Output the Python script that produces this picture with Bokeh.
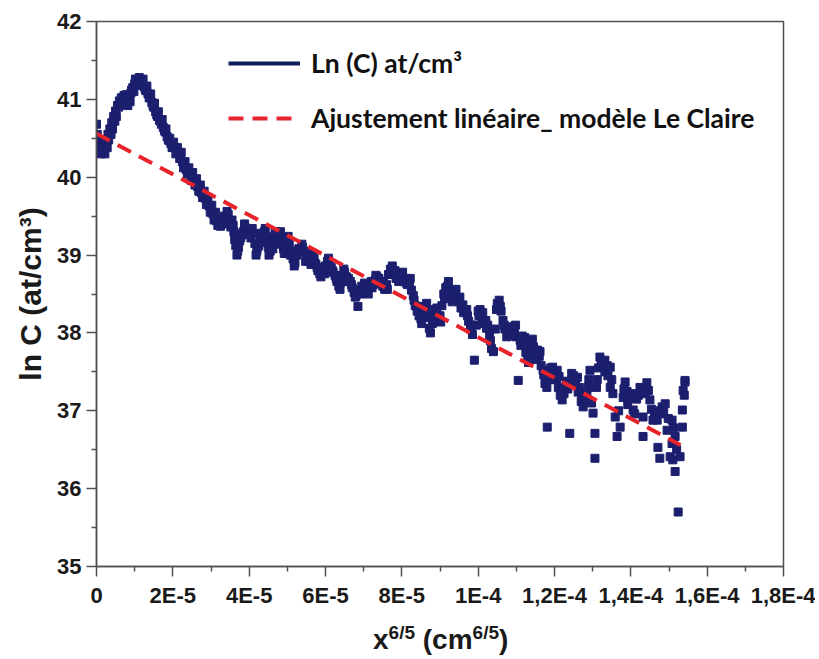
from bokeh.plotting import figure
from bokeh.layouts import column
from bokeh.models import Range1d, FixedTicker, Legend, LegendItem, ColumnDataSource, Div
from bokeh.embed import file_html
from bokeh.resources import INLINE

# ---------------- data (x in units of 1e-5 cm^(6/5)) ----------------
x_e5 = [
    0.00, 0.00, 0.00, 0.05, 0.10, 0.15, 0.20, 0.25, 0.30, 0.35, 0.40, 0.45, 0.50, 0.55, 0.60,
    0.65, 0.70, 0.75, 0.80, 0.85, 0.90, 0.95, 1.00, 1.05, 1.10, 1.15, 1.20, 1.25, 1.30, 1.35,
    1.40, 1.45, 1.50, 1.55, 1.60, 1.65, 1.70, 1.75, 1.80, 1.85, 1.90, 1.95, 2.00, 2.05, 2.10,
    2.15, 2.20, 2.25, 2.30, 2.35, 2.40, 2.45, 2.50, 2.55, 2.60, 2.65, 2.70, 2.75, 2.80, 2.85,
    2.90, 2.95, 3.00, 3.05, 3.10, 3.15, 3.20, 3.25,
    3.30, 3.35, 3.40, 3.45, 3.50, 3.55, 3.60, 3.65, 3.70, 3.75, 3.80, 3.85, 3.90, 3.95, 4.00,
    4.05, 4.10, 4.15, 4.20, 4.25, 4.30, 4.35, 4.40, 4.45, 4.50, 4.55, 4.60, 4.65, 4.70, 4.75,
    4.80, 4.85, 4.90, 4.95, 5.00, 5.05, 5.10, 5.15, 5.20, 5.25, 5.30, 5.35, 5.40, 5.45, 5.50,
    5.55, 5.60, 5.65, 5.70, 5.75, 5.80, 5.85, 5.90, 5.95, 6.00, 6.05, 6.10, 6.15, 6.20, 6.25,
    6.30, 6.35, 6.40, 6.45, 6.50, 6.55, 6.60, 6.65, 6.70, 6.75, 6.80, 6.85, 6.90, 6.95, 7.00,
    7.05, 7.10, 7.15, 7.20, 7.25, 7.30, 7.35, 7.40, 7.45, 7.50, 7.55, 7.60, 7.65, 7.70, 7.75,
    7.80, 7.85, 7.90, 7.95, 8.00, 8.05, 8.10, 8.15, 8.20, 8.25, 8.30, 8.35, 8.40, 8.45, 8.50,
    8.55, 8.60, 8.65, 8.70, 8.75, 8.80, 8.85, 8.90, 8.95, 9.00, 9.05, 9.10, 9.15, 9.20, 9.25,
    9.30, 9.35, 9.40, 9.45, 9.50, 9.55, 9.60, 9.65, 9.70, 9.75, 9.80, 9.85, 9.90, 9.95, 10.00,
    10.05, 10.10, 10.15, 10.20, 10.25, 10.30, 10.35, 10.40, 10.45, 10.50, 10.55, 10.60, 10.65,
    10.70, 10.75, 10.80, 10.85, 10.90, 10.95, 11.00, 11.05, 11.10, 11.15, 11.20, 11.25, 11.30,
    11.35, 11.40, 11.45, 11.50, 11.55, 11.60, 11.65, 11.70, 11.75, 11.80, 11.81, 11.85, 11.90,
    11.95, 12.00, 12.05, 12.07, 12.10, 12.15, 12.20, 12.25, 12.30, 12.35, 12.40, 12.45, 12.50,
    12.55, 12.60, 12.65, 12.70, 12.75, 12.80, 12.85, 12.90, 12.93, 12.97, 13.01, 13.06, 13.06,
    13.10, 13.15, 13.19, 13.25, 13.32, 13.32, 13.40, 13.46, 13.46, 13.53, 13.59, 13.64, 13.72,
    13.80, 13.85, 13.90, 13.98, 14.06, 14.15, 14.24, 14.32, 14.32, 14.42, 14.50, 14.58, 14.65,
    14.69, 14.71, 14.76, 14.82, 14.90, 14.95, 15.03, 15.08, 15.08, 15.10, 15.16, 15.16, 15.24,
    15.29, 15.35, 15.35, 15.37, 15.42, 15.42,
]
ln_c = [
    40.68, 40.50, 40.38, 40.45, 40.35, 40.42, 40.38, 40.45, 40.55, 40.62, 40.70, 40.78, 40.85, 40.92, 40.98,
    41.02, 40.98, 41.00, 40.97, 41.03, 41.08, 41.15, 41.20, 41.23, 41.24, 41.24, 41.21, 41.16, 41.11, 41.07,
    41.02, 40.96, 40.90, 40.84, 40.78, 40.73, 40.68, 40.64, 40.58, 40.52, 40.47, 40.43, 40.40, 40.38, 40.34,
    40.31, 40.26, 40.20, 40.14, 40.10, 40.07, 40.04, 40.00, 39.97, 39.93, 39.88, 39.84, 39.80, 39.76, 39.73,
    39.68, 39.63, 39.58, 39.53, 39.48, 39.44, 39.40, 39.37,
    39.45, 39.50, 39.47, 39.52, 39.42, 39.45, 39.30, 39.12, 39.05, 39.18, 39.27, 39.30, 39.35, 39.33, 39.30,
    39.22, 39.28, 39.15, 39.05, 39.12, 39.20, 39.25, 39.30, 39.24, 39.10, 39.05, 39.15, 39.22, 39.26, 39.20,
    39.24, 39.18, 39.08, 39.12, 39.18, 39.14, 39.05, 38.95, 38.90, 39.00, 39.08, 39.04, 39.10, 39.05, 38.98,
    38.92, 38.95, 39.00, 38.96, 38.88, 38.80, 38.76, 38.82, 38.80, 38.86, 38.92, 38.90, 38.84, 38.78, 38.74,
    38.66, 38.60, 38.65, 38.74, 38.78, 38.72, 38.70, 38.66, 38.58, 38.52, 38.48, 38.34, 38.55, 38.60, 38.58,
    38.52, 38.56, 38.62, 38.66, 38.62, 38.68, 38.72, 38.70, 38.64, 38.60, 38.56, 38.62, 38.75, 38.82, 38.86,
    38.76, 38.70, 38.74, 38.68, 38.72, 38.66, 38.70, 38.62, 38.65, 38.55, 38.48, 38.35, 38.28, 38.22, 38.18,
    38.25, 38.34, 38.38, 38.20, 38.00, 38.12, 38.30, 38.25, 38.18, 38.22, 38.35, 38.50, 38.58, 38.60, 38.52,
    38.46, 38.55, 38.50, 38.45, 38.40, 38.32, 38.36, 38.28, 38.30, 38.15, 38.05, 37.98, 37.65, 38.10, 38.28,
    38.30, 38.20, 38.12, 38.16, 38.10, 37.98, 37.80, 37.76, 38.05, 38.38, 38.42, 38.28, 38.16,
    38.05, 37.95, 38.00, 38.04, 38.08, 38.02, 37.95, 37.39, 37.90, 37.96, 37.88, 37.75, 37.69,
    37.80, 37.86, 37.82, 37.72, 37.78, 37.70, 37.58, 37.52, 37.35, 37.30, 36.79, 37.45, 37.55,
    37.56, 37.48, 37.40, 37.52, 37.30, 37.20, 37.14, 37.22, 37.32, 37.28, 36.71, 37.48, 37.45,
    37.40, 37.43, 37.30, 37.12, 37.05, 37.15, 37.22, 37.40, 37.52, 37.10, 36.97, 36.71, 36.39,
    37.30, 37.55, 37.69, 37.62, 37.65, 37.50, 37.45, 37.56, 37.30, 37.22, 36.92, 36.67, 36.79,
    37.17, 37.37, 37.25, 37.17, 37.01, 37.15, 37.30, 36.92, 36.67, 37.36, 37.14, 36.88, 37.00,
    36.88, 36.53, 36.39, 37.05, 37.09, 36.75, 36.41, 36.88, 36.58, 36.37, 36.67, 36.22, 35.70,
    36.41, 36.79, 37.01, 37.26, 37.37, 37.39,
]
# second pass of readings (scatter around the main trace)
x_e5_b = [
    0.02, 0.08, 0.12, 0.18, 0.22, 0.28, 0.32, 0.38, 0.42, 0.48, 0.52, 0.58, 0.62, 0.68, 0.72,
    0.78, 0.82, 0.88, 0.92, 0.98, 1.02, 1.08, 1.12, 1.18, 1.22, 1.28, 1.32, 1.38, 1.42, 1.48,
    1.52, 1.58, 1.62, 1.68, 1.72, 1.78, 1.82, 1.88, 1.92, 1.98, 2.02, 2.08, 2.12, 2.18, 2.22,
    2.28, 2.32, 2.38, 2.42, 2.48, 2.52, 2.58, 2.62, 2.68, 2.72, 2.78, 2.82, 2.88, 2.92, 2.98,
    3.02, 3.08, 3.12, 3.18, 3.22,
    3.32, 3.42, 3.52, 3.58, 3.62, 3.68, 3.72, 3.78, 3.88, 3.98, 4.08, 4.18, 4.22, 4.32, 4.42,
    4.48, 4.52, 4.62, 4.68, 4.78, 4.82, 4.92, 5.02, 5.08, 5.18, 5.28, 5.38, 5.48, 5.58, 5.62,
    5.72, 5.78, 5.88, 5.98, 6.08, 6.18, 6.28, 6.38, 6.48, 6.58, 6.68, 6.78, 6.92, 7.02, 7.12,
    7.22, 7.32, 7.42, 7.52, 7.62, 7.72, 7.82, 7.92, 8.02, 8.12, 8.22, 8.32,
    8.42, 8.52, 8.62, 8.72, 8.82, 8.92, 9.02, 9.12, 9.22, 9.32, 9.42, 9.52, 9.62, 9.72, 9.82,
    10.02, 10.12, 10.22, 10.32, 10.48, 10.58, 10.68, 10.78, 10.88, 10.98, 11.12, 11.22, 11.32,
    11.42, 11.52, 11.62, 11.72,
    11.88, 11.98, 12.12, 12.22, 12.32, 12.52, 12.62, 12.72, 12.88, 13.12, 13.22, 13.38, 13.50,
    13.68, 13.82, 13.92, 14.02, 14.10, 14.20, 14.38, 14.46, 14.54, 14.62, 14.78, 14.86, 14.98,
    15.12, 15.20, 15.40,
]
ln_c_b = [
    40.55, 40.48, 40.30, 40.35, 40.30, 40.38, 40.48, 40.55, 40.62, 40.72, 40.78, 40.90, 40.93, 40.95, 41.05,
    41.06, 40.92, 40.97, 41.12, 41.10, 41.26, 41.18, 41.28, 41.20, 41.26, 41.12, 41.17, 41.02, 41.07, 40.92,
    40.95, 40.80, 40.84, 40.72, 40.74, 40.60, 40.62, 40.48, 40.50, 40.38, 40.45, 40.30, 40.38, 40.24, 40.32,
    40.12, 40.20, 40.04, 40.12, 39.96, 40.06, 39.90, 39.98, 39.82, 39.90, 39.74, 39.82, 39.65, 39.74, 39.55,
    39.64, 39.45, 39.55, 39.38, 39.46,
    39.40, 39.56, 39.36, 39.38, 39.20, 39.00, 39.10, 39.22, 39.40, 39.26, 39.34, 39.00, 39.10, 39.28, 39.34,
    39.16, 39.00, 39.08, 39.30, 39.14, 39.30, 39.02, 39.24, 39.00, 38.86, 39.04, 39.14, 38.92, 39.02, 38.88,
    38.90, 38.84, 38.72, 38.76, 38.96, 38.80, 38.70, 38.56, 38.82, 38.66, 38.62, 38.46, 38.50, 38.64, 38.50,
    38.58, 38.74, 38.64, 38.66, 38.56, 38.78, 38.80, 38.66, 38.78, 38.64, 38.70, 38.42,
    38.34, 38.12, 38.28, 38.06, 38.18, 38.32, 38.14, 38.44, 38.66, 38.40, 38.56, 38.46, 38.26, 38.22, 38.10,
    38.22, 38.26, 38.06, 37.90, 38.30, 38.34, 38.10, 38.02, 37.96, 38.10, 37.84, 37.94, 37.62,
    37.92, 37.66, 37.76, 37.46,
    37.40, 37.50, 37.44, 37.28, 37.38, 37.36, 37.24, 37.20, 37.30, 37.40, 37.58, 37.58, 37.40,
    37.00, 37.28, 37.08, 37.22, 36.96, 37.20, 37.22, 37.26, 37.02, 36.96, 36.96, 36.98, 36.90,
    36.78, 36.50, 37.20,
]
fit_x = [0.0, 1.53e-4]
fit_y = [40.56, 36.56]

x_ticks = [0, 2e-5, 4e-5, 6e-5, 8e-5, 1e-4, 1.2e-4, 1.4e-4, 1.6e-4, 1.8e-4]
x_tick_labels = ["0", "2E-5", "4E-5", "6E-5", "8E-5", "1E-4", "1,2E-4", "1,4E-4", "1,6E-4", "1,8E-4"]
x_minor = [1e-5, 3e-5, 5e-5, 7e-5, 9e-5, 1.1e-4, 1.3e-4, 1.5e-4, 1.7e-4]
y_ticks = [35, 36, 37, 38, 39, 40, 41, 42]
y_minor = [35.5, 36.5, 37.5, 38.5, 39.5, 40.5, 41.5]

series_label = "Ln (C) at/cm³"
fit_label = "Ajustement linéaire_ modèle Le Claire"
y_title = "ln C (at/cm³)"

NAVY = "#1b1f6e"
RED = "#e8232b"
AXC = "#505050"
TXT = "#1a1a1a"

W = 815
x_all = [v * 1e-5 for v in x_e5 + x_e5_b]
y_all = ln_c + ln_c_b

p = figure(width=W, height=610, output_backend="svg", toolbar_location=None,
           x_range=Range1d(0, 1.8e-4), y_range=Range1d(35, 42),
           min_border_left=96, min_border_right=32, min_border_top=21, min_border_bottom=43)
p.grid.visible = False
p.outline_line_color = AXC
p.outline_line_width = 1.5

src = ColumnDataSource(dict(x=x_all, y=y_all))
p.scatter("x", "y", source=src, marker="square", size=8, fill_color=NAVY, line_color=NAVY)
fit_r = p.line(fit_x, fit_y, line_color=RED, line_width=4, line_dash="15 9")
# line representation of the series, used for the legend only
series_line = p.line(x_all[:68], y_all[:68], line_color="#0f1d5a", line_width=4, visible=False)

for ax in (p.xaxis[0], p.yaxis[0]):
    ax.axis_line_color = AXC
    ax.axis_line_width = 1.5
    ax.major_tick_line_color = AXC
    ax.minor_tick_line_color = AXC
    ax.major_tick_line_width = 1.5
    ax.minor_tick_line_width = 1.5
    ax.major_tick_out = 10
    ax.major_tick_in = 0
    ax.minor_tick_out = 5
    ax.minor_tick_in = 0
    ax.major_label_text_font = "Liberation Sans"
    ax.major_label_text_font_style = "bold"
    ax.major_label_text_font_size = "22px"
    ax.major_label_text_color = TXT

p.xaxis.ticker = FixedTicker(ticks=x_ticks, minor_ticks=x_minor)
p.xaxis.major_label_overrides = {t: s for t, s in zip(x_ticks, x_tick_labels)}
p.xaxis.major_label_standoff = 6
p.yaxis.ticker = FixedTicker(ticks=y_ticks, minor_ticks=y_minor)
p.yaxis.major_label_standoff = 5

p.yaxis.axis_label = y_title
p.yaxis.axis_label_text_font = "Liberation Sans"
p.yaxis.axis_label_text_font_style = "bold"
p.yaxis.axis_label_text_font_size = "30px"
p.yaxis.axis_label_text_color = TXT
p.yaxis.axis_label_standoff = 7

legend = Legend(items=[LegendItem(label=series_label, renderers=[series_line]),
                       LegendItem(label=fit_label, renderers=[fit_r])],
                location=(132, 432), orientation="vertical")
legend.border_line_color = None
legend.background_fill_alpha = 0
legend.inactive_fill_alpha = 0
legend.padding = 0
legend.margin = 0
legend.glyph_width = 72
legend.glyph_height = 30
legend.label_height = 30
legend.spacing = 23
legend.label_standoff = 11
legend.label_text_font = "Lato"
legend.label_text_font_style = "bold"
legend.label_text_font_size = "26.5px"
legend.label_text_color = "#111111"
p.add_layout(legend)

# x-axis title (with real superscripts) placed under the plot
sup = '<sup style="font-size:19px;vertical-align:10px;line-height:0">6/5</sup>'
x_title_html = (
    '<div style="padding-left:373px;padding-top:14px;white-space:nowrap;'
    "font-family:'Liberation Sans',Arial,sans-serif;font-weight:bold;font-size:28px;"
    f'line-height:32px;color:{TXT};">x{sup} (cm{sup})</div>'
)
xt = Div(text=x_title_html, width=W, height=49, margin=0)

open("out.html", "w").write(file_html(column(p, xt, spacing=0), INLINE))
